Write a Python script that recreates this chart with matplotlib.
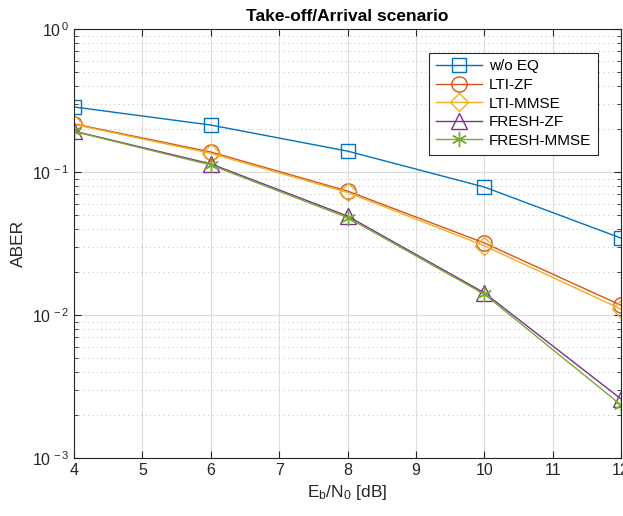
import matplotlib
matplotlib.use("Agg")
import matplotlib.pyplot as plt
from matplotlib.ticker import LogLocator, NullFormatter, FixedLocator, FuncFormatter
import numpy as np

plt.rcParams['font.family'] = ['Liberation Sans', 'DejaVu Sans']
plt.rcParams['mathtext.fontset'] = 'custom'
plt.rcParams['mathtext.rm'] = 'Liberation Sans'
plt.rcParams['mathtext.it'] = 'Liberation Sans'
plt.rcParams['axes.unicode_minus'] = False

snr = [4, 6, 8, 10, 12]
wo_eq = [0.285, 0.213, 0.140, 0.0785, 0.0345]
lti_zf = [0.217, 0.138, 0.0736, 0.0319, 0.0117]
lti_mmse = [0.215, 0.135, 0.0720, 0.0305, 0.0110]
fresh_zf = [0.193, 0.114, 0.0492, 0.0143, 0.00259]
fresh_mmse = [0.192, 0.112, 0.0480, 0.0140, 0.00235]

labels = ['w/o EQ', 'LTI-ZF', 'LTI-MMSE', 'FRESH-ZF', 'FRESH-MMSE']
series = [wo_eq, lti_zf, lti_mmse, fresh_zf, fresh_mmse]
colors = ['#0072BD', '#D95319', '#EDB120', '#7E2F8E', '#77AC30']
markers = ['s', 'o', 'D', '^', '*']
msizes = [10, 11, 9, 12, 11]

fig = plt.figure(figsize=(6.23, 5.16), dpi=100)
ax = fig.add_axes([74/623, 58/516, 547/623, 429/516])

for y, lab, c, m, ms in zip(series, labels, colors, markers, msizes):
    if m == '*':
        ax.plot(snr, y, color=c, lw=1.0, marker=(6, 2, 0), ms=ms, mew=1.0, label=lab)
    else:
        ax.plot(snr, y, color=c, lw=1.0, marker=m, ms=ms, mfc='none', mec=c, mew=1.0, label=lab)

ax.set_yscale('log')
ax.set_xlim(4, 12)
ax.set_ylim(1e-3, 1)
ax.xaxis.set_major_locator(FixedLocator(range(4, 13)))
ax.yaxis.set_major_locator(LogLocator(base=10, numticks=10))
ax.yaxis.set_major_formatter(FuncFormatter(
    lambda v, p: r'$\mathregular{10^{\,%d}}$' % int(round(np.log10(v)))))
ax.yaxis.set_minor_locator(LogLocator(base=10, subs=range(2, 10), numticks=20))
ax.yaxis.set_minor_formatter(NullFormatter())

ax.grid(True, which='major', color='#dcdcdc', lw=0.8, ls='-')
ax.grid(True, which='minor', axis='y', color='#c8c8c8', lw=0.8, ls=(0, (1, 3)))
ax.set_axisbelow(True)

ax.tick_params(which='both', direction='in', top=True, right=True, colors='#262626', labelsize=11.5)
ax.tick_params(which='major', length=5)
ax.tick_params(which='minor', length=3)
for s in ax.spines.values():
    s.set_color('#262626')
    s.set_linewidth(0.8)

ax.set_xlabel(r'E$_\mathregular{b}$/N$_\mathregular{0}$ [dB]', fontsize=12.5, color='#262626')
ax.set_ylabel('ABER', fontsize=12.5, color='#262626')
ax.set_title('Take-off/Arrival scenario', fontsize=12.5, fontweight='bold', pad=6)

leg = ax.legend(loc='upper right', bbox_to_anchor=(0.9726, 0.963), fontsize=11, fancybox=False,
                edgecolor='#262626', framealpha=1, handlelength=3.0, labelspacing=0.3,
                borderpad=0.45, handletextpad=0.5)
leg.get_frame().set_linewidth(0.8)

fig.savefig('out.png', dpi=100)
